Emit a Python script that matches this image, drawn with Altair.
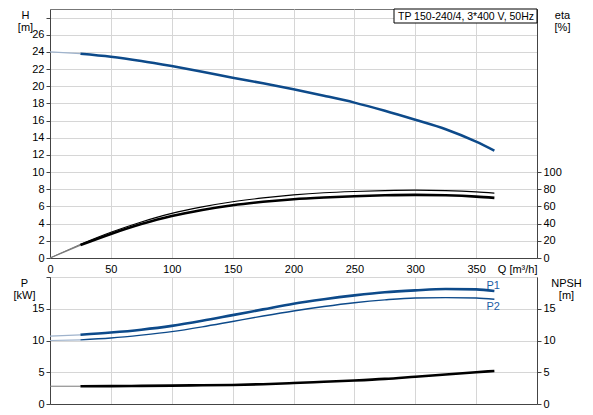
import altair as alt
import pandas as pd

# ---- data ----
q = [0, 25, 50, 75, 100, 125, 150, 175, 200, 225, 250, 275, 300, 325, 350, 365]
head = [24.0, 23.8, 23.45, 22.95, 22.35, 21.7, 21.0, 20.35, 19.65, 18.9, 18.1, 17.15, 16.1, 15.0, 13.55, 12.5]
eta_1 = [0, 16, 30, 42, 52, 59.5, 65.5, 70, 73.5, 76, 77.5, 78.5, 79, 78.5, 77, 75.5]
eta_2 = [0, 15, 28, 39.5, 49, 56, 61.5, 65.5, 68.5, 70.5, 72, 73, 73.5, 73, 71.5, 70]
p1 = [10.7, 10.9, 11.25, 11.7, 12.3, 13.1, 14.0, 14.9, 15.8, 16.5, 17.1, 17.6, 17.9, 18.1, 18.05, 17.8]
p2 = [10.0, 10.1, 10.4, 10.85, 11.4, 12.15, 13.0, 13.85, 14.65, 15.35, 15.95, 16.4, 16.7, 16.75, 16.7, 16.5]
npsh = [2.8, 2.8, 2.82, 2.86, 2.9, 2.95, 3.0, 3.12, 3.3, 3.5, 3.7, 3.95, 4.3, 4.65, 5.0, 5.2]

x_ticks = [0, 50, 100, 150, 200, 250, 300, 350, 400]
h_ticks = list(range(0, 30, 2))
eta_ticks = [0, 20, 40, 60, 80, 100]
p_ticks = [0, 5, 10, 15, 20]
npsh_ticks = [0, 5, 10, 15]
curve_labels = ["P1", "P2"]
curve_label_q = [364, 364]
curve_label_p = [18.6, 15.3]
box_text = ["TP 150-240/4, 3*400 V, 50Hz"]
start_q = 25

FONT = "Liberation Sans"
BLUE = "#0d4a8a"
BLUE_LIGHT = "#9fb3cc"
BLACK = "#000000"
GREY_LEAD = "#7a7a7a"

W = 487
H_TOP = 249
H_BOT = 127


def seg(values, lead):
    if lead:
        pts = [(a, b) for a, b in zip(q, values) if a <= start_q]
    else:
        pts = [(a, b) for a, b in zip(q, values) if a >= start_q]
    return pd.DataFrame({"q": [p[0] for p in pts], "v": [p[1] for p in pts]})


x_scale = alt.Scale(domain=[0, 400], nice=False)
x_axis_top = alt.Axis(
    values=x_ticks,
    labelExpr="datum.value == 400 ? 'Q [m³/h]' : datum.label",
    labelAlign={"condition": {"test": "datum.value == 400", "value": "right"}, "value": "center"},
    labelFlush=False, labelOverlap=False, tickSize=0, labelPadding=5,
    grid=True, title=None,
)
x_axis_bot = alt.Axis(values=x_ticks, labels=False, ticks=False, grid=True, title=None)


def side_axis(values, title, orient, tx, hide_above=None, grid=True):
    kw = dict(
        values=values, orient=orient, title=title, titleAngle=0, titleAlign="center",
        titleBaseline="top", titleX=tx, titleY=0, titleLineHeight=12,
        titleFontWeight="normal", tickSize=4, labelPadding=2, grid=grid,
    )
    if hide_above is not None:
        kw["labelExpr"] = f"datum.value <= {hide_above} ? datum.label : ''"
    return alt.Axis(**kw)


h_scale = alt.Scale(domain=[0, 29], nice=False)
eta_scale = alt.Scale(domain=[0, 290], nice=False)
p_scale = alt.Scale(domain=[0, 20], nice=False)
npsh_scale = alt.Scale(domain=[0, 20], nice=False)

h_axis = side_axis(h_ticks, ["H", "[m]"], "left", -25, hide_above=26)
eta_axis = side_axis(eta_ticks, ["eta", "[%]"], "right", 25, grid=False)
p_axis = side_axis(p_ticks, ["P", "[kW]"], "left", -26, hide_above=15)
npsh_axis = side_axis(npsh_ticks, ["NPSH", "[m]"], "right", 29, grid=False)


def line(df, color, width, xaxis, yscale, yaxis):
    return alt.Chart(df).mark_line(color=color, strokeWidth=width, interpolate="monotone").encode(
        x=alt.X("q:Q", scale=x_scale, axis=xaxis),
        y=alt.Y("v:Q", scale=yscale, axis=yaxis),
    )


# ---- top panel ----
top_left = alt.layer(
    line(seg(head, True), BLUE_LIGHT, 1.2, x_axis_top, h_scale, h_axis),
    line(seg(head, False), BLUE, 2.5, x_axis_top, h_scale, h_axis),
)
top_right = alt.layer(
    line(seg(eta_1, True), GREY_LEAD, 1.0, x_axis_top, eta_scale, eta_axis),
    line(seg(eta_2, True), GREY_LEAD, 1.2, x_axis_top, eta_scale, eta_axis),
    line(seg(eta_1, False), BLACK, 1.1, x_axis_top, eta_scale, eta_axis),
    line(seg(eta_2, False), BLACK, 2.6, x_axis_top, eta_scale, eta_axis),
)
box_df = pd.DataFrame({"t": box_text})
box = alt.Chart(box_df).mark_rect(fill="white", stroke="#000", strokeWidth=1).encode(
    x=alt.value(344), x2=alt.value(W), y=alt.value(0), y2=alt.value(14)
)
box_label = alt.Chart(box_df).mark_text(
    font=FONT, fontSize=10.5, align="right", baseline="middle", color="#000"
).encode(x=alt.value(W - 3), y=alt.value(7.5), text="t:N")

top = alt.layer(top_left, top_right, box, box_label).resolve_scale(y="independent").properties(
    width=W, height=H_TOP
)

# ---- bottom panel ----
lab_df = pd.DataFrame({"q": curve_label_q, "v": curve_label_p, "t": curve_labels})
bot_left = alt.layer(
    line(seg(p1, True), BLUE_LIGHT, 1.2, x_axis_bot, p_scale, p_axis),
    line(seg(p2, True), BLUE_LIGHT, 1.2, x_axis_bot, p_scale, p_axis),
    line(seg(p1, False), BLUE, 2.6, x_axis_bot, p_scale, p_axis),
    line(seg(p2, False), BLUE, 1.4, x_axis_bot, p_scale, p_axis),
    alt.Chart(lab_df).mark_text(font=FONT, fontSize=11, color="#1b5ea6", align="center", baseline="middle").encode(
        x=alt.X("q:Q", scale=x_scale, axis=x_axis_bot),
        y=alt.Y("v:Q", scale=p_scale, axis=p_axis),
        text="t:N",
    ),
)
bot_right = alt.layer(
    line(seg(npsh, True), GREY_LEAD, 1.0, x_axis_bot, npsh_scale, npsh_axis),
    line(seg(npsh, False), BLACK, 2.6, x_axis_bot, npsh_scale, npsh_axis),
)
bottom = alt.layer(bot_left, bot_right).resolve_scale(y="independent").properties(width=W, height=H_BOT)

chart = (
    alt.vconcat(top, bottom, spacing=1)
    .properties(padding={"left": 4, "top": 0, "right": 0, "bottom": 0}, background="white")
    .configure_axis(
        labelFont=FONT, labelFontSize=11, labelColor="#000",
        titleFont=FONT, titleFontSize=11, titleColor="#000",
        gridColor="#d6d6d6", gridWidth=1, domainColor="#444", tickColor="#444",
    )
    .configure_view(stroke="#777")
)

chart.save("out.html", embed_options={"renderer": "svg", "actions": False})
